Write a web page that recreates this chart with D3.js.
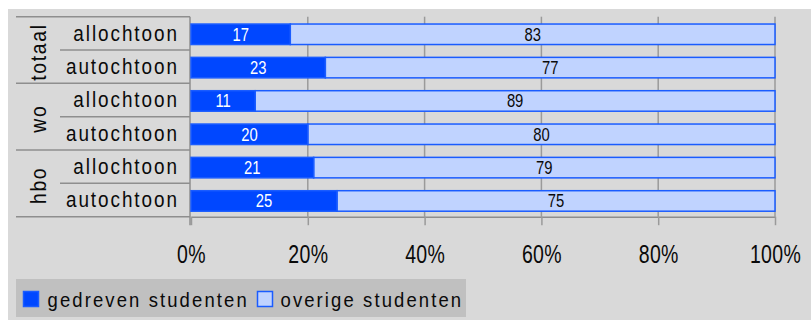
<!DOCTYPE html>
<html>
<head>
<meta charset="utf-8">
<script src="https://cdn.jsdelivr.net/npm/d3@7/dist/d3.min.js"></script>
<style>
  html, body { margin: 0; padding: 0; background: #ffffff; }
  svg { display: block; }
  text { font-family: "Liberation Sans", Arial, sans-serif; fill: #0a0a0a; }
</style>
</head>
<body>
<svg id="chart" width="811" height="320"></svg>
<script>
// Share of students per group (percent)
const groups = ["totaal", "wo", "hbo"];
const origins = ["allochtoon", "autochtoon"];
const gedreven = [17, 23, 11, 20, 21, 25];
const overige = [83, 77, 89, 80, 79, 75];
const tickValues = [0, 20, 40, 60, 80, 100];
const seriesNames = ["gedreven studenten", "overige studenten"];

const rows = [];
groups.forEach((g, gi) => origins.forEach((o, oi) => {
  const i = gi * origins.length + oi;
  rows.push({ group: g, origin: o, idx: i, a: gedreven[i], b: overige[i] });
}));

const svg = d3.select("#chart");
const W = 811, H = 320;
const NARROW = 0.88; // horizontal squeeze giving a condensed face
const NUMS = 0.8;    // squeeze for numerals

const dark = "#0047ff", light = "#c0d3ff", edge = "#1a5cff", gridC = "#9a9a9a", lineC = "#8e8e8e";

// panel background
svg.append("rect").attr("x", 8).attr("y", 9).attr("width", W - 8).attr("height", H - 9).attr("fill", "#d9d9d9");

const plotTop = 16.7, plotBottom = 216.7;
const x = d3.scaleLinear().domain([0, 100]).range([191, 775]);
const y = d3.scaleBand().domain(rows.map(r => r.idx)).range([plotTop, plotBottom]).padding(0);
const bw = y.bandwidth();

// vertical gridlines
svg.append("g").selectAll("line").data(tickValues.slice(1)).join("line")
  .attr("x1", d => x(d)).attr("x2", d => x(d))
  .attr("y1", plotTop).attr("y2", plotBottom)
  .attr("stroke", gridC).attr("stroke-width", 1.5);

// bottom axis
const axis = svg.append("g").attr("transform", `translate(0,${plotBottom})`)
  .call(d3.axisBottom(x).tickValues(tickValues).tickFormat(d => d + "%")
    .tickSize(8.5).tickSizeOuter(0).tickPadding(20));
axis.select(".domain").attr("stroke", lineC).attr("stroke-width", 1.5);
axis.selectAll(".tick line").attr("stroke", gridC).attr("stroke-width", 1.5);
axis.selectAll(".tick text").attr("font-size", 25).attr("fill", "#0a0a0a")
  .attr("font-family", "'Liberation Sans', Arial, sans-serif")
  .attr("letter-spacing", "0.4px")
  .attr("transform", "scale(0.78,1)");

// category table on the left
const table = svg.append("g");
groups.forEach((g, gi) => {
  const y0 = y(gi * 2), y1 = y(gi * 2 + 1) + bw;
  table.append("line").attr("x1", 16).attr("x2", 190).attr("y1", y0).attr("y2", y0)
    .attr("stroke", lineC).attr("stroke-width", 1.5);
  table.append("line").attr("x1", 60).attr("x2", 190).attr("y1", y(gi * 2 + 1)).attr("y2", y(gi * 2 + 1))
    .attr("stroke", lineC).attr("stroke-width", 1.5);
  const cy = (y0 + y1) / 2;
  table.append("text")
    .attr("transform", `translate(45.5,${cy + 2}) rotate(-90) scale(${NARROW},1)`)
    .attr("text-anchor", "middle")
    .attr("font-size", 22).attr("letter-spacing", "1.9px")
    .text(g);
});
table.append("line").attr("x1", 16).attr("x2", 190).attr("y1", plotBottom).attr("y2", plotBottom)
  .attr("stroke", lineC).attr("stroke-width", 1.5);
table.append("line").attr("x1", 190).attr("x2", 190).attr("y1", plotTop).attr("y2", plotBottom + 8.5)
  .attr("stroke", lineC).attr("stroke-width", 1.5);

const rowSpacing = 2.2;
table.selectAll("text.row").data(rows).join("text")
  .attr("class", "row")
  .attr("transform", d => `translate(${177 + rowSpacing * NARROW},${y(d.idx) + 24}) scale(${NARROW},1)`)
  .attr("text-anchor", "end")
  .attr("font-size", 21.5).attr("letter-spacing", rowSpacing + "px")
  .text(d => d.origin);

// stacked bars
const barY = d => y(d.idx) + bw * 0.22;
const barH = bw * 0.615;
const bars = svg.append("g");
bars.selectAll("rect.b").data(rows).join("rect").attr("class", "b")
  .attr("x", d => x(d.a)).attr("y", barY)
  .attr("width", d => x(d.a + d.b) - x(d.a)).attr("height", barH)
  .attr("fill", light).attr("stroke", edge).attr("stroke-width", 1.5);
bars.selectAll("rect.a").data(rows).join("rect").attr("class", "a")
  .attr("x", x(0)).attr("y", barY)
  .attr("width", d => x(d.a) - x(0)).attr("height", barH)
  .attr("fill", dark).attr("stroke", edge).attr("stroke-width", 1.5);

// value labels
bars.selectAll("text.va").data(rows).join("text").attr("class", "va")
  .attr("transform", d => `translate(${x(d.a / 2)},${barY(d) + barH / 2 + 6.5}) scale(${NUMS},1)`)
  .attr("text-anchor", "middle").attr("font-size", 18.5)
  .style("fill", "#ffffff").text(d => d.a);
bars.selectAll("text.vb").data(rows).join("text").attr("class", "vb")
  .attr("transform", d => `translate(${x(d.a + d.b / 2)},${barY(d) + barH / 2 + 6.5}) scale(${NUMS},1)`)
  .attr("text-anchor", "middle").attr("font-size", 18.5)
  .style("fill", "#0a0a0a").text(d => d.b);

// legend
const leg = svg.append("g");
leg.append("rect").attr("x", 16).attr("y", 279).attr("width", 450).attr("height", 38).attr("fill", "#c0c0c0");
const legItems = [
  { name: seriesNames[0], fill: dark, sx: 23.5, tx: 47.5 },
  { name: seriesNames[1], fill: light, sx: 257.5, tx: 280.5 }
];
legItems.forEach(it => {
  leg.append("rect").attr("x", it.sx).attr("y", 291.5).attr("width", 15).attr("height", 15)
    .attr("fill", it.fill).attr("stroke", edge).attr("stroke-width", 1.5);
  leg.append("text").attr("transform", `translate(${it.tx},306.5) scale(${NARROW},1)`)
    .attr("font-size", 21).attr("letter-spacing", "2.4px").text(it.name);
});
</script>
</body>
</html>
